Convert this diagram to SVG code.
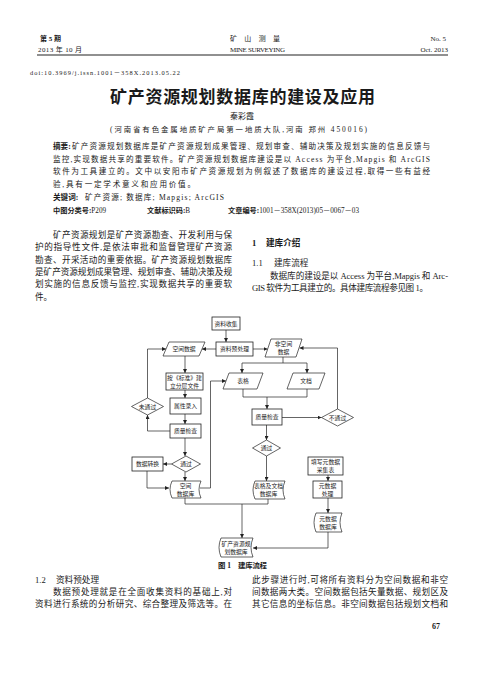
<svg xmlns="http://www.w3.org/2000/svg" width="500" height="679" viewBox="0 0 500 679">
<defs>
<marker id="ah" viewBox="0 0 8 8" refX="8" refY="4" markerWidth="4" markerHeight="4" orient="auto" markerUnits="userSpaceOnUse"><path d="M0,0 L8,4 L0,8 z" fill="#222"/></marker>
<style>
text{font-family:"Liberation Serif","Noto Sans CJK SC",serif;fill:#1a1a1a}
.h{font-size:7px}
.b{font-weight:bold}
.ab{font-size:7.6px}
.cl{font-size:7.2px}
.bd{font-size:8.6px}
.fc{font-size:5.8px;text-anchor:middle}
.shape{fill:#fff;stroke:#222;stroke-width:0.7}
.box{fill:#fff;stroke:#222;stroke-width:0.8}
.cn{fill:none;stroke:#222;stroke-width:0.7}
.ar{marker-end:url(#ah)}
</style>
</defs>
<rect width="500" height="679" fill="#fff"/>

<!-- header -->
<g id="header">
<text class="h b" x="40" y="41">第 5 期</text>
<text class="h" x="38" y="52" textLength="44" lengthAdjust="spacing">2013 年 10 月</text>
<text class="h" x="230" y="41" textLength="50" lengthAdjust="spacing">矿 山 测 量</text>
<text class="h" x="230" y="52" textLength="55" lengthAdjust="spacing">MINE SURVEYING</text>
<text class="h" x="446" y="41" text-anchor="end">No. 5</text>
<text class="h" x="448" y="52" text-anchor="end">Oct. 2013</text>
<line x1="37" y1="55" x2="448" y2="55" stroke="#222" stroke-width="1.2"/>
<text x="30" y="75" style="font-size:6.4px" textLength="150" lengthAdjust="spacing">doi:10.3969/j.issn.1001－358X.2013.05.22</text>
</g>

<!-- title block -->
<g id="title">
<text x="110" y="103" class="b" style="font-size:17px" textLength="265" lengthAdjust="spacing">矿产资源规划数据库的建设及应用</text>
<text x="242" y="119" style="font-size:8px" text-anchor="middle">秦彩霞</text>
<text x="110" y="132" style="font-size:7.4px" textLength="257" lengthAdjust="spacing">(河南省有色金属地质矿产局第一地质大队,河南 郑州   450016)</text>
</g>

<!-- abstract -->
<g id="abstract">
<text class="ab b" x="53" y="149">摘要:</text>
<text class="ab" x="72" y="149" textLength="358" lengthAdjust="spacing">矿产资源规划数据库是矿产资源规划成果管理、规划审查、辅助决策及规划实施的信息反馈与</text>
<text class="ab" x="53" y="161.5" textLength="377" lengthAdjust="spacing">监控,实现数据共享的重要软件。矿产资源规划数据库建设是以 Access 为平台,Mapgis 和 ArcGIS</text>
<text class="ab" x="53" y="174" textLength="377" lengthAdjust="spacing">软件为工具建立的。文中以安阳市矿产资源规划为例叙述了数据库的建设过程,取得一些有益经</text>
<text class="ab" x="53" y="186.5" textLength="142" lengthAdjust="spacing">验,具有一定学术意义和应用价值。</text>
<text class="ab b" x="53" y="200">关键词:</text>
<text class="ab" x="85" y="200" textLength="139" lengthAdjust="spacing">矿产资源; 数据库; Mapgis; ArcGIS</text>
<text class="cl" x="53" y="213"><tspan class="b">中图分类号:</tspan>P209</text>
<text class="cl" x="147" y="213"><tspan class="b">文献标识码:</tspan>B</text>
<text class="cl" x="228" y="213"><tspan class="b">文章编号:</tspan>1001－358X(2013)05－0067－03</text>
</g>

<!-- body text -->
<g id="body">
<text class="bd" x="53" y="238" textLength="179" lengthAdjust="spacing">矿产资源规划是矿产资源勘查、开发利用与保</text>
<text class="bd" x="35" y="250.3" textLength="197" lengthAdjust="spacing">护的指导性文件,是依法审批和监督管理矿产资源</text>
<text class="bd" x="35" y="262.6" textLength="197" lengthAdjust="spacing">勘查、开采活动的重要依据。矿产资源规划数据库</text>
<text class="bd" x="35" y="274.9" textLength="197" lengthAdjust="spacing">是矿产资源规划成果管理、规划审查、辅助决策及规</text>
<text class="bd" x="35" y="287.2" textLength="197" lengthAdjust="spacing">划实施的信息反馈与监控,实现数据共享的重要软</text>
<text class="bd" x="35" y="299.5">件。</text>

<text class="bd b" x="252" y="246">1</text>
<text class="bd b" x="266" y="246">建库介绍</text>
<text class="bd" x="252" y="266">1.1</text>
<text class="bd" x="274" y="266">建库流程</text>
<text class="bd" x="270" y="279" textLength="178" lengthAdjust="spacing">数据库的建设是以 Access 为平台,Mapgis 和 Arc-</text>
<text class="bd" x="252" y="291" textLength="176" lengthAdjust="spacing">GIS 软件为工具建立的。具体建库流程参见图 1。</text>
</g>

<!-- connectors -->
<g id="connectors">
<path class="cn ar" d="M226,330 V342"/>
<path class="cn ar" d="M216,349 H202"/>
<path class="cn ar" d="M253,349 H267.5"/>
<path class="cn" d="M283,357 V363 M242,363 H307"/>
<path class="cn ar" d="M242,363 V373"/>
<path class="cn ar" d="M307,363 V373"/>
<path class="cn ar" d="M185,356 V373"/>
<path class="cn ar" d="M185,390 V398"/>
<path class="cn ar" d="M185,414 V424"/>
<path class="cn ar" d="M170,431 H147.5 V415"/>
<path class="cn ar" d="M147.5,398 V349 H166"/>
<path class="cn ar" d="M185,438 V456"/>
<path class="cn ar" d="M171.5,464 H163"/>
<path class="cn ar" d="M147,471 V488 H169"/>
<path class="cn ar" d="M185,472 V481"/>
<path class="cn ar" d="M200,488 H210.5 V381 H226"/>
<path class="cn" d="M243,389 V397 M307,389 V397 M243,397 H307"/>
<path class="cn ar" d="M267,397 V409"/>
<path class="cn ar" d="M282,417.5 H321.5"/>
<path class="cn ar" d="M337.5,409 V348 H299.5"/>
<path class="cn ar" d="M266.5,425 V440"/>
<path class="cn ar" d="M266.5,456 V481"/>
<path class="cn" d="M185,498 V504 M268,499 V504 M185,504 H268"/>
<path class="cn ar" d="M242,504 V538"/>
<path class="cn ar" d="M328,475 V481"/>
<path class="cn ar" d="M328,498 V513"/>
<path class="cn ar" d="M328,532 V548 H253"/>
</g>

<!-- nodes -->
<g id="n-collect"><rect class="box" x="212" y="317" width="28" height="13"/><text class="fc" x="226" y="325.8">资料收集</text></g>
<g id="n-preprocess"><rect class="box" x="216" y="342" width="37" height="14"/><text class="fc" x="234.5" y="351.3">资料预处理</text></g>
<g id="n-spatial"><polygon class="shape" points="169,342 205,342 199,356 163,356"/><text class="fc" x="184" y="351.3">空间数据</text></g>
<g id="n-nonspatial"><polygon class="shape" points="271,339 302,339 296,357 265,357"/><text class="fc" x="283.5" y="346.3">非空间</text><text class="fc" x="283.5" y="354">数据</text></g>
<g id="n-layer"><rect class="box" x="166" y="373" width="37" height="17"/><text class="fc" x="184.5" y="380">按《标准》建</text><text class="fc" x="184.5" y="387.5">立分层文件</text></g>
<g id="n-table"><polygon class="shape" points="229,373 263,373 257,389 223,389"/><text class="fc" x="243" y="383.3">表格</text></g>
<g id="n-doc"><polygon class="shape" points="293,373 325,373 319,389 287,389"/><text class="fc" x="306" y="383.3">文档</text></g>
<g id="n-attr"><rect class="box" x="170" y="398" width="31" height="16"/><text class="fc" x="185.5" y="408.2">属性录入</text></g>
<g id="n-fail1"><polygon class="shape" points="131.5,406.5 147.5,398 163.5,406.5 147.5,415"/><text class="fc" x="147.5" y="408.6">未通过</text></g>
<g id="n-qc1"><rect class="box" x="170" y="424" width="31" height="14"/><text class="fc" x="185.5" y="433.2">质量检查</text></g>
<g id="n-qc2"><rect class="box" x="252" y="409" width="30" height="16"/><text class="fc" x="267" y="419.2">质量检查</text></g>
<g id="n-fail2"><polygon class="shape" points="321.5,417.5 337.5,409 353.5,417.5 337.5,426"/><text class="fc" x="337.5" y="419.6">不通过</text></g>
<g id="n-pass1"><polygon class="shape" points="171.5,464 186,456 200.5,464 186,472"/><text class="fc" x="186" y="466.1">通过</text></g>
<g id="n-convert"><rect class="box" x="132" y="457" width="31" height="14"/><text class="fc" x="147.5" y="466.2">数据转换</text></g>
<g id="n-pass2"><polygon class="shape" points="252.5,448 266.5,440 280.5,448 266.5,456"/><text class="fc" x="266.5" y="450.1">通过</text></g>
<g id="n-metaform"><rect class="box" x="308" y="457" width="35" height="18"/><text class="fc" x="325.5" y="464.3">填写元数据</text><text class="fc" x="325.5" y="472">采集表</text></g>
<g id="n-spatialdb"><path class="shape" d="M172,481 H201 Q197,489.5 201,498 H172 Q168,489.5 172,481 Z"/><text class="fc" x="185.5" y="488">空间</text><text class="fc" x="185.5" y="495.5">数据库</text></g>
<g id="n-tabledb"><path class="shape" d="M255,481 H285 Q281,490 285,499 H255 Q251,490 255,481 Z"/><text class="fc" x="268.5" y="488.3">表格及文档</text><text class="fc" x="268.5" y="496">数据库</text></g>
<g id="n-metaproc"><rect class="box" x="313" y="481" width="29" height="17"/><text class="fc" x="327.5" y="488">元数据</text><text class="fc" x="327.5" y="495.5">处理</text></g>
<g id="n-metadb"><path class="shape" d="M316,513 H342 Q338,522.5 342,532 H316 Q312,522.5 316,513 Z"/><text class="fc" x="328" y="520.6">元数据</text><text class="fc" x="328" y="528.6">数据库</text></g>
<g id="n-minedb"><path class="shape" d="M221,538 H253 Q249,547.5 253,557 H221 Q217,547.5 221,538 Z"/><text class="fc" x="236" y="545.6">矿产资源规</text><text class="fc" x="236" y="553.6">划数据库</text></g>

<g id="caption">
<text class="b" style="font-size:7.4px" x="218" y="568">图 1</text>
<text class="b" style="font-size:7.4px" x="238" y="568" textLength="29" lengthAdjust="spacing">建库流程</text>
</g>

<!-- bottom text -->
<g id="bottom">
<text class="bd" x="35" y="582.5">1.2</text>
<text class="bd" x="56" y="582.5">资料预处理</text>
<text class="bd" x="53" y="594.8" textLength="179" lengthAdjust="spacing">数据预处理就是在全面收集资料的基础上,对</text>
<text class="bd" x="35" y="607" textLength="197" lengthAdjust="spacing">资料进行系统的分析研究、综合整理及筛选等。在</text>
<text class="bd" x="252" y="582.5" textLength="196" lengthAdjust="spacing">此步骤进行时,可将所有资料分为空间数据和非空</text>
<text class="bd" x="252" y="594.8" textLength="196" lengthAdjust="spacing">间数据两大类。空间数据包括矢量数据、规划区及</text>
<text class="bd" x="252" y="607" textLength="196" lengthAdjust="spacing">其它信息的坐标信息。非空间数据包括规划文档和</text>
<text class="b" style="font-size:8px" x="440" y="629" text-anchor="end">67</text>
</g>
</svg>
